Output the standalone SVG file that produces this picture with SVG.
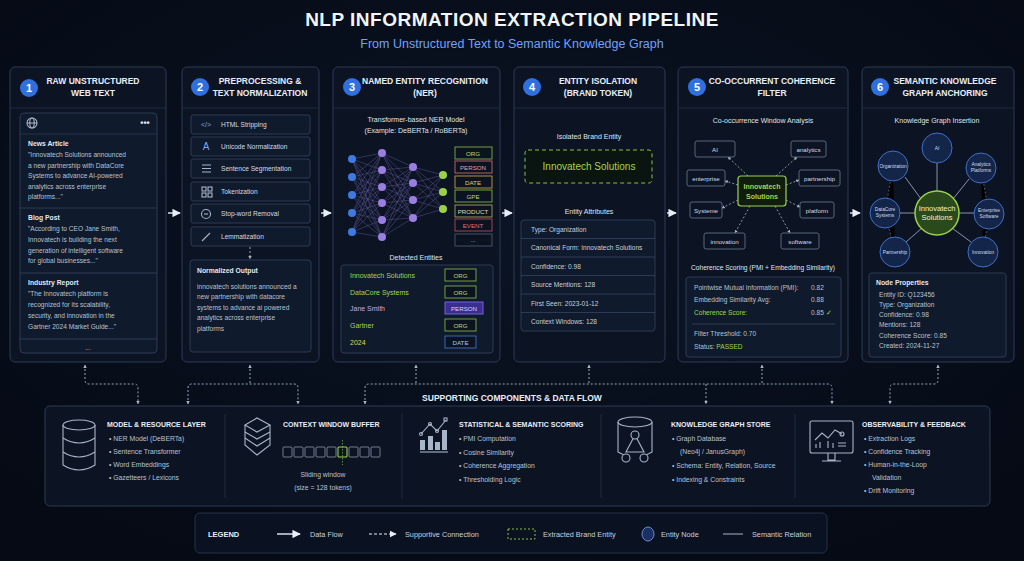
<svg xmlns="http://www.w3.org/2000/svg" width="1024" height="561" viewBox="0 0 1024 561">
<defs>
<marker id="ah" viewBox="0 0 10 10" refX="9" refY="5" markerWidth="6" markerHeight="6" orient="auto"><path d="M0 0L10 5L0 10z" fill="#e8eef8"/></marker>
<marker id="sm" viewBox="0 0 10 10" refX="9" refY="5" markerWidth="4" markerHeight="4" orient="auto-start-reverse"><path d="M0 0L10 5L0 10z" fill="#a8b4c8"/></marker>
<radialGradient id="bg" cx="50%" cy="40%" r="70%"><stop offset="0" stop-color="#0b1424"/><stop offset="1" stop-color="#050a14"/></radialGradient>
</defs>
<style>
text{font-family:"Liberation Sans",Arial,sans-serif;fill:#d4dbe8}
.panel{fill:#0c1424;stroke:#2c3b55;stroke-width:1}
.card{fill:#0f1a2c;stroke:#2c3b55;stroke-width:1}
.hd{font-size:8.5px;font-weight:bold;text-anchor:middle;fill:#e8eef8}
.num{fill:#2f6fde}
.numt{font-size:11px;fill:#fff;text-anchor:middle;font-weight:bold}
.sub{font-size:7px;text-anchor:middle;fill:#dfe5ef}
.t{font-size:6.6px;fill:#b8c2d2}
.tb{font-size:6.8px;font-weight:bold;fill:#e2e8f2}
.g{fill:#a6d44e}
.net{stroke:#6b5fa8;stroke-width:0.5;fill:none;opacity:0.8}
.tag{fill:#0b1320;stroke-width:0.9}
.tagt{font-size:6.2px;text-anchor:middle}
.wb{fill:#0c1424;stroke:#6a7890;stroke-width:0.8}
.wt{font-size:6.2px;text-anchor:middle;fill:#d4dbe8}
.dot{stroke:#a8b4c8;stroke-width:0.8;stroke-dasharray:2 2;fill:none}
.kn{fill:#13264a;stroke:#3f6fc8;stroke-width:1}
.knt{font-size:4.8px;text-anchor:middle;fill:#d4dbe8}
.flow{stroke:#e8eef8;stroke-width:1.4;marker-end:url(#ah)}
.sup{stroke:#a8b4c8;stroke-width:0.9;stroke-dasharray:2 2;fill:none}
.bt{font-size:7px;font-weight:bold;fill:#e8eef8}
.bl{font-size:6.8px;fill:#b8c2d2}
.lg{font-size:7.3px;fill:#c8d0de}
.ic{fill:none;stroke:#a8b4c8;stroke-width:1.1}
.sq{fill:none;stroke:#8894a8;stroke-width:0.8}
</style>
<rect width="1024" height="561" fill="url(#bg)"/>
<text x="512" y="26" text-anchor="middle" style="font-size:19px;font-weight:bold;fill:#f2f5fa;letter-spacing:0.5px">NLP INFORMATION EXTRACTION PIPELINE</text>
<text x="512" y="48" text-anchor="middle" style="font-size:12.5px;fill:#6fa2ff">From Unstructured Text to Semantic Knowledge Graph</text>

<g id="panel1">
<rect class="panel" x="10" y="67" width="156" height="295" rx="5"/>
<line x1="10" y1="108" x2="166" y2="108" stroke="#1e2a40"/>
<circle class="num" cx="29" cy="88" r="9"/><text class="numt" x="29" y="92">1</text>
<text class="hd" x="93" y="84">RAW UNSTRUCTURED</text><text class="hd" x="93" y="96">WEB TEXT</text>
<rect class="card" x="20" y="113" width="137" height="240" rx="4"/>
<circle cx="32" cy="123" r="5" class="ic" stroke-width="0.8"/><ellipse cx="32" cy="123" rx="2.2" ry="5" class="ic" stroke-width="0.6"/><line x1="27" y1="123" x2="37" y2="123" class="ic" stroke-width="0.6"/>
<text x="145" y="126" text-anchor="middle" style="font-size:9px;font-weight:bold;fill:#e0e6f0">•••</text>
<line x1="20" y1="134" x2="157" y2="134" stroke="#24324a"/>
<text class="tb" x="28" y="146">News Article</text>
<text class="t" x="28" y="157">"Innovatech Solutions announced</text>
<text class="t" x="28" y="168">a new partnership with DataCore</text>
<text class="t" x="28" y="178">Systems to advance AI-powered</text>
<text class="t" x="28" y="189">analytics across enterprise</text>
<text class="t" x="28" y="199">platforms..."</text>
<line x1="20" y1="208" x2="157" y2="208" stroke="#2c3b55"/>
<text class="tb" x="28" y="220">Blog Post</text>
<text class="t" x="28" y="231">"According to CEO Jane Smith,</text>
<text class="t" x="28" y="242">Innovatech is building the next</text>
<text class="t" x="28" y="253">generation of intelligent software</text>
<text class="t" x="28" y="263">for global businesses..."</text>
<line x1="20" y1="273" x2="157" y2="273" stroke="#2c3b55"/>
<text class="tb" x="28" y="285">Industry Report</text>
<text class="t" x="28" y="296">"The Innovatech platform is</text>
<text class="t" x="28" y="307">recognized for its scalability,</text>
<text class="t" x="28" y="318">security, and innovation in the</text>
<text class="t" x="28" y="329">Gartner 2024 Market Guide..."</text>
<line x1="20" y1="339" x2="157" y2="339" stroke="#2c3b55"/>
<text class="t" x="88" y="350" text-anchor="middle">...</text>
</g>

<g id="panel2">
<rect class="panel" x="182" y="67" width="137" height="295" rx="5"/>
<line x1="182" y1="108" x2="319" y2="108" stroke="#1e2a40"/>
<circle class="num" cx="200" cy="87" r="9"/><text class="numt" x="200" y="91">2</text>
<text class="hd" x="260" y="84">PREPROCESSING &amp;</text><text class="hd" x="260" y="96">TEXT NORMALIZATION</text>
<rect class="card" x="191" y="115" width="119" height="19" rx="2"/>
<rect class="card" x="191" y="137" width="119" height="19" rx="2"/>
<rect class="card" x="191" y="159" width="119" height="19" rx="2"/>
<rect class="card" x="191" y="182" width="119" height="19" rx="2"/>
<rect class="card" x="191" y="204" width="119" height="19" rx="2"/>
<rect class="card" x="191" y="227" width="119" height="19" rx="2"/>
<g style="font-size:7px;fill:#7fa6e8" text-anchor="middle"><text x="206" y="127" style="fill:#7fa6e8">&lt;/&gt;</text><text x="206" y="150" style="font-size:10px;fill:#7fa6e8">A</text></g>
<g class="ic" stroke="#6f96d8"><path d="M202 165h9M202 168.5h9M202 172h9"/><rect x="202" y="187" width="4" height="4"/><rect x="208" y="187" width="4" height="4"/><rect x="202" y="193" width="4" height="4"/><rect x="208" y="193" width="4" height="4"/><circle cx="206" cy="214" r="4.5"/><path d="M204 214h4"/><path d="M202 241l8-8"/></g>
<text class="t" x="221" y="127" style="fill:#d4dbe8">HTML Stripping</text>
<text class="t" x="221" y="149" style="fill:#d4dbe8">Unicode Normalization</text>
<text class="t" x="221" y="171" style="fill:#d4dbe8">Sentence Segmentation</text>
<text class="t" x="221" y="194" style="fill:#d4dbe8">Tokenization</text>
<text class="t" x="221" y="216" style="fill:#d4dbe8">Stop-word Removal</text>
<text class="t" x="221" y="239" style="fill:#d4dbe8">Lemmatization</text>
<line x1="250" y1="247" x2="250" y2="259" class="sup" marker-end="url(#sm)"/>
<rect class="card" x="190" y="260" width="121" height="92" rx="3"/>
<text class="tb" x="197" y="273">Normalized Output</text>
<text class="t" x="197" y="289">innovatech solutions announced a</text>
<text class="t" x="197" y="299">new partnership with datacore</text>
<text class="t" x="197" y="310">systems to advance ai powered</text>
<text class="t" x="197" y="320">analytics across enterprise</text>
<text class="t" x="197" y="331">platforms</text>
</g>

<g id="panel3">
<rect class="panel" x="333" y="67" width="167" height="295" rx="5"/>
<line x1="333" y1="108" x2="500" y2="108" stroke="#1e2a40"/>
<circle class="num" cx="352" cy="87" r="9"/><text class="numt" x="352" y="91">3</text>
<text class="hd" x="425" y="84">NAMED ENTITY RECOGNITION</text><text class="hd" x="425" y="96">(NER)</text>
<text class="sub" x="416" y="122">Transformer-based NER Model</text>
<text class="sub" x="416" y="133">(Example: DeBERTa / RoBERTa)</text>
<path class="net" d="M352 159L382 153L352 177M382 153L352 195M382 153L352 213M382 153L352 232 M352 159L382 170L352 177M382 170L352 195M382 170L352 213M382 170L352 232 M352 159L382 187L352 177M382 187L352 195M382 187L352 213M382 187L352 232 M352 159L382 203L352 177M382 203L352 195M382 203L352 213M382 203L352 232 M352 159L382 220L352 177M382 220L352 195M382 220L352 213M382 220L352 232 M352 159L382 237L352 177M382 237L352 195M382 237L352 213M382 237L352 232"/>
<path class="net" d="M382 153L413 167L382 170M413 167L382 187M413 167L382 203M413 167L382 220M413 167L382 237 M382 153L413 183L382 170M413 183L382 187M413 183L382 203M413 183L382 220M413 183L382 237 M382 153L413 200L382 170M413 200L382 187M413 200L382 203M413 200L382 220M413 200L382 237 M382 153L413 218L382 170M413 218L382 187M413 218L382 203M413 218L382 220M413 218L382 237"/>
<path class="net" d="M413 167L443 175L413 183M443 175L413 200M443 175L413 218 M413 167L443 192L413 183M443 192L413 200M443 192L413 218 M413 167L443 209L413 183M443 209L413 200M443 209L413 218"/>
<g fill="#3f7ae0"><circle cx="352" cy="159" r="4"/><circle cx="352" cy="177" r="4"/><circle cx="352" cy="195" r="4"/><circle cx="352" cy="213" r="4"/><circle cx="352" cy="232" r="4"/></g>
<g fill="#9a7fe0"><circle cx="382" cy="153" r="4"/><circle cx="382" cy="170" r="4"/><circle cx="382" cy="187" r="4"/><circle cx="382" cy="203" r="4"/><circle cx="382" cy="220" r="4"/><circle cx="382" cy="237" r="4"/><circle cx="413" cy="167" r="4"/><circle cx="413" cy="183" r="4"/><circle cx="413" cy="200" r="4"/><circle cx="413" cy="218" r="4"/></g>
<g fill="#9ad04a"><circle cx="443" cy="175" r="4"/><circle cx="443" cy="192" r="4"/><circle cx="443" cy="209" r="4"/></g>
<rect class="tag" x="455" y="147" width="37" height="12" stroke="#7fb040"/><text class="tagt" x="473" y="155.5" style="fill:#b8dc70">ORG</text>
<rect class="tag" x="455" y="161" width="37" height="12" stroke="#c06a6a"/><text class="tagt" x="473" y="169.5" style="fill:#e8a0a0">PERSON</text>
<rect class="tag" x="455" y="176" width="37" height="12" stroke="#c0a040"/><text class="tagt" x="473" y="184.5" style="fill:#e8c870">DATE</text>
<rect class="tag" x="455" y="190" width="37" height="12" stroke="#7fb040"/><text class="tagt" x="473" y="198.5" style="fill:#b8dc70">GPE</text>
<rect class="tag" x="455" y="205" width="37" height="12" stroke="#a8a060"/><text class="tagt" x="473" y="213.5" style="fill:#e0d8a0">PRODUCT</text>
<rect class="tag" x="455" y="219" width="37" height="12" stroke="#b04a5a"/><text class="tagt" x="473" y="227.5" style="fill:#e07080">EVENT</text>
<rect class="tag" x="455" y="234" width="37" height="12" stroke="#4a5870"/><text class="tagt" x="473" y="242" style="fill:#b8c2d2">...</text>
<text class="sub" x="416" y="260">Detected Entities</text>
<rect class="card" x="341" y="265" width="152" height="88" rx="3"/>
<g style="font-size:7px"><text x="350" y="278" class="g">Innovatech Solutions</text><text x="350" y="295" class="g">DataCore Systems</text><text x="350" y="311" style="fill:#c8a8e8">Jane Smith</text><text x="350" y="328" class="g">Gartner</text><text x="350" y="345" style="fill:#e0d060">2024</text></g>
<rect class="tag" x="445" y="269" width="31" height="12" stroke="#7fb040"/><text class="tagt" x="460.5" y="277.5" style="fill:#b8dc70">ORG</text>
<rect class="tag" x="445" y="286" width="31" height="12" stroke="#7fb040"/><text class="tagt" x="460.5" y="294.5" style="fill:#b8dc70">ORG</text>
<rect x="445" y="302" width="38" height="12" fill="#3a2f90" stroke="#7a6ae0" stroke-width="0.9"/><text class="tagt" x="464" y="310.5" style="fill:#d8d0ff">PERSON</text>
<rect class="tag" x="445" y="319" width="31" height="12" stroke="#7fb040"/><text class="tagt" x="460.5" y="327.5" style="fill:#b8dc70">ORG</text>
<rect class="tag" x="445" y="336" width="31" height="12" stroke="#3f6fc8"/><text class="tagt" x="460.5" y="344.5" style="fill:#a8c4f0">DATE</text>
</g>

<g id="panel4">
<rect class="panel" x="514" y="67" width="151" height="295" rx="5"/>
<line x1="514" y1="108" x2="665" y2="108" stroke="#1e2a40"/>
<circle class="num" cx="532" cy="87" r="9"/><text class="numt" x="532" y="91">4</text>
<text class="hd" x="598" y="84">ENTITY ISOLATION</text><text class="hd" x="598" y="96">(BRAND TOKEN)</text>
<text class="sub" x="589" y="139">Isolated Brand Entity</text>
<rect x="525" y="150" width="127" height="33" rx="3" fill="#0a1410" stroke="#8ac040" stroke-dasharray="4 3" stroke-width="1"/>
<text x="589" y="170" text-anchor="middle" style="font-size:10px" class="g">Innovatech Solutions</text>
<text class="sub" x="589" y="214">Entity Attributes</text>
<rect class="card" x="521" y="220" width="134" height="111" rx="3"/>
<g stroke="#2c3b55"><line x1="521" y1="238.5" x2="655" y2="238.5"/><line x1="521" y1="257" x2="655" y2="257"/><line x1="521" y1="275.5" x2="655" y2="275.5"/><line x1="521" y1="294" x2="655" y2="294"/><line x1="521" y1="312.5" x2="655" y2="312.5"/></g>
<text class="t" x="531" y="232" style="fill:#c8d0de">Type: Organization</text>
<text class="t" x="531" y="250" style="fill:#c8d0de">Canonical Form: Innovatech Solutions</text>
<text class="t" x="531" y="269" style="fill:#c8d0de">Confidence: 0.98</text>
<text class="t" x="531" y="287" style="fill:#c8d0de">Source Mentions: 128</text>
<text class="t" x="531" y="306" style="fill:#c8d0de">First Seen: 2023-01-12</text>
<text class="t" x="531" y="324" style="fill:#c8d0de">Context Windows: 128</text>
</g>

<g id="panel5">
<rect class="panel" x="678" y="67" width="170" height="295" rx="5"/>
<line x1="678" y1="108" x2="848" y2="108" stroke="#1e2a40"/>
<circle class="num" cx="697" cy="87" r="9"/><text class="numt" x="697" y="91">5</text>
<text class="hd" x="772" y="84">CO-OCCURRENT COHERENCE</text><text class="hd" x="772" y="96">FILTER</text>
<text class="sub" x="763" y="123">Co-occurrence Window Analysis</text>
<g class="dot" marker-end="url(#sm)"><path d="M748 176L728 157"/><path d="M776 176L797 157"/><path d="M738 185L725 181"/><path d="M786 185L799 180"/><path d="M738 200L722 208"/><path d="M786 200L800 207"/><path d="M750 206L735 233"/><path d="M775 206L790 233"/></g>
<rect class="wb" x="695" y="141" width="40" height="16" rx="2"/><text class="wt" x="715" y="151.5">AI</text>
<rect class="wb" x="791" y="141" width="35" height="16" rx="2"/><text class="wt" x="808.5" y="151.5">analytics</text>
<rect class="wb" x="687" y="170" width="38" height="16" rx="2"/><text class="wt" x="706" y="180.5">enterprise</text>
<rect class="wb" x="799" y="170" width="41" height="16" rx="2"/><text class="wt" x="819.5" y="180.5">partnership</text>
<rect class="wb" x="690" y="202" width="32" height="16" rx="2"/><text class="wt" x="706" y="212.5">Systeme</text>
<rect class="wb" x="800" y="202" width="34" height="16" rx="2"/><text class="wt" x="817" y="212.5">platform</text>
<rect class="wb" x="704" y="233" width="41" height="16" rx="2"/><text class="wt" x="724.5" y="243.5">innovation</text>
<rect class="wb" x="781" y="233" width="38" height="16" rx="2"/><text class="wt" x="800" y="243.5">software</text>
<rect x="738" y="176" width="48" height="30" rx="3" fill="#101c10" stroke="#9ad04a" stroke-width="1.2"/>
<text x="762" y="189" text-anchor="middle" style="font-size:7px;font-weight:bold" class="g">Innovatech</text>
<text x="762" y="199" text-anchor="middle" style="font-size:7px;font-weight:bold" class="g">Solutions</text>
<text class="sub" x="763" y="270" style="font-size:6.6px">Coherence Scoring (PMI + Embedding Similarity)</text>
<rect class="card" x="686" y="277" width="155" height="80" rx="3"/>
<text class="t" x="694" y="290">Pointwise Mutual Information (PMI):</text><text class="t" x="811" y="290">0.82</text>
<text class="t" x="694" y="302">Embedding Similarity Avg:</text><text class="t" x="811" y="302">0.88</text>
<text class="t g" x="694" y="315">Coherence Score:</text><text class="t" x="811" y="315">0.85 <tspan class="g">✓</tspan></text>
<line x1="692" y1="324" x2="835" y2="324" stroke="#2c3b55"/>
<text class="t" x="694" y="336">Filter Threshold: 0.70</text>
<text class="t" x="694" y="349">Status: <tspan class="g">PASSED</tspan></text>
</g>

<g id="panel6">
<rect class="panel" x="862" y="67" width="152" height="295" rx="5"/>
<line x1="862" y1="108" x2="1014" y2="108" stroke="#1e2a40"/>
<circle class="num" cx="880" cy="87" r="9"/><text class="numt" x="880" y="91">6</text>
<text class="hd" x="945" y="84">SEMANTIC KNOWLEDGE</text><text class="hd" x="945" y="96">GRAPH ANCHORING</text>
<text class="sub" x="937" y="123">Knowledge Graph Insertion</text>
<g stroke="#6a7890" stroke-width="0.7" stroke-dasharray="2 2"><path d="M893 166L885 213L895 252"/><path d="M981 168L989 214L983 252"/></g>
<g stroke="#a8b4c8" stroke-width="0.8"><path d="M937 192V163"/><path d="M921 199L905 177"/><path d="M953 199L969 179"/><path d="M916 213H900"/><path d="M958 213H974"/><path d="M922 228L906 242"/><path d="M952 228L971 242"/></g>
<circle class="kn" cx="937" cy="148" r="15"/><text class="knt" x="937" y="150">AI</text>
<circle class="kn" cx="893" cy="166" r="15"/><text class="knt" x="893" y="168">Organization</text>
<circle class="kn" cx="981" cy="168" r="15"/><text class="knt" x="981" y="166">Analytics</text><text class="knt" x="981" y="172">Platforms</text>
<circle class="kn" cx="885" cy="213" r="15"/><text class="knt" x="885" y="211">DataCore</text><text class="knt" x="885" y="217">Systems</text>
<circle class="kn" cx="989" cy="214" r="15"/><text class="knt" x="989" y="212">Enterprise</text><text class="knt" x="989" y="218">Software</text>
<circle class="kn" cx="895" cy="252" r="15"/><text class="knt" x="895" y="254">Partnership</text>
<circle class="kn" cx="983" cy="252" r="15"/><text class="knt" x="983" y="254">Innovation</text>
<circle cx="937" cy="213" r="22" fill="#2a4a1c" stroke="#9ad04a" stroke-width="1.5"/>
<text x="937" y="211" text-anchor="middle" style="font-size:7.5px;fill:#eaf4d8">Innovatech</text>
<text x="937" y="220" text-anchor="middle" style="font-size:7.5px;fill:#eaf4d8">Solutions</text>
<rect class="card" x="869" y="273" width="137" height="84" rx="3"/>
<text class="tb" x="876" y="285">Node Properties</text>
<text class="t" x="879" y="297">Entity ID: Q123456</text>
<text class="t" x="879" y="307">Type: Organization</text>
<text class="t" x="879" y="317">Confidence: 0.98</text>
<text class="t" x="879" y="327">Mentions: 128</text>
<text class="t" x="879" y="338">Coherence Score: 0.85</text>
<text class="t" x="879" y="348">Created: 2024-11-27</text>
</g>

<g id="connectors">
<line class="flow" x1="168" y1="213" x2="180" y2="213"/>
<line class="flow" x1="321" y1="213" x2="331" y2="213"/>
<line class="flow" x1="502" y1="213" x2="512" y2="213"/>
<line class="flow" x1="667" y1="213" x2="676" y2="213"/>
<line class="flow" x1="850" y1="213" x2="860" y2="213"/>
<path class="sup" d="M85 365V380Q85 384 89 384H134Q138 384 138 388V404" marker-start="url(#sm)" marker-end="url(#sm)"/>
<path class="sup" d="M250 365V384" marker-start="url(#sm)"/>
<path class="sup" d="M188 404V388Q188 384 192 384H294Q298 384 298 388V404" marker-start="url(#sm)" marker-end="url(#sm)"/>
<path class="sup" d="M416 365V384" marker-start="url(#sm)"/>
<path class="sup" d="M589 365V384" marker-start="url(#sm)"/>
<path class="sup" d="M762 365V384" marker-start="url(#sm)"/>
<path class="sup" d="M365 404V388Q365 384 369 384H828Q832 384 832 388V404" marker-start="url(#sm)" marker-end="url(#sm)"/>
<path class="sup" d="M706 384V404" marker-end="url(#sm)"/>
<path class="sup" d="M938 365V380Q938 384 934 384H894Q890 384 890 388V404" marker-start="url(#sm)" marker-end="url(#sm)"/>
</g>

<text x="512" y="401" text-anchor="middle" style="font-size:8.5px;font-weight:bold;fill:#e8eef8">SUPPORTING COMPONENTS &amp; DATA FLOW</text>
<g id="support">
<rect x="45" y="406" width="945" height="100" rx="5" fill="#0c1424" stroke="#2c3b55"/>
<g stroke="#1e2a40"><line x1="225" y1="414" x2="225" y2="498"/><line x1="402" y1="414" x2="402" y2="498"/><line x1="601" y1="414" x2="601" y2="498"/><line x1="795" y1="414" x2="795" y2="498"/></g>
<g class="ic" stroke-width="1.3"><ellipse cx="79" cy="425" rx="16" ry="5"/><path d="M63 425V465Q79 475 95 465V425M63 438Q79 448 95 438M63 452Q79 462 95 452"/></g>
<text class="bt" x="107" y="427">MODEL &amp; RESOURCE LAYER</text>
<text class="bl" x="109" y="441">•  NER Model (DeBERTa)</text>
<text class="bl" x="109" y="454">•  Sentence Transformer</text>
<text class="bl" x="109" y="467">•  Word Embeddings</text>
<text class="bl" x="109" y="480">•  Gazetteers / Lexicons</text>
<g class="ic" stroke-width="1.1"><path d="M245 425L257 418L270 425L257 432Z"/><path d="M245 432L257 439L270 432"/><path d="M245 425V445L257 455L270 445V425"/><path d="M245 438L257 446L270 438"/></g>
<text class="bt" x="283" y="427">CONTEXT WINDOW BUFFER</text>
<g class="sq"><rect x="283" y="447" width="9" height="10" rx="1"/><rect x="294" y="447" width="9" height="10" rx="1"/><rect x="305" y="447" width="9" height="10" rx="1"/><rect x="316" y="447" width="9" height="10" rx="1"/><rect x="327" y="447" width="9" height="10" rx="1"/><rect x="349" y="447" width="9" height="10" rx="1"/><rect x="360" y="447" width="9" height="10" rx="1"/><rect x="371" y="447" width="9" height="10" rx="1"/></g>
<rect x="338" y="447" width="9" height="10" rx="1" fill="none" stroke="#9ad04a" stroke-width="1.1"/>
<line x1="342.5" y1="440" x2="342.5" y2="465" stroke="#9ad04a" stroke-width="0.6" stroke-dasharray="1.5 1.5"/>
<text class="bl" x="323" y="477" text-anchor="middle">Sliding window</text>
<text class="bl" x="323" y="490" text-anchor="middle">(size = 128 tokens)</text>
<g class="ic" stroke-width="1.1"><path d="M421 434L430 424L437 431L446 420"/><circle cx="421" cy="434" r="1.5"/><circle cx="430" cy="424" r="1.5"/><circle cx="437" cy="431" r="1.5"/><rect x="444" y="418" width="3" height="3"/><path d="M420 452H448"/></g>
<g fill="#a8b4c8"><rect x="420" y="440" width="5" height="10"/><rect x="428" y="436" width="5" height="14"/><rect x="435" y="442" width="5" height="8"/><rect x="442" y="430" width="5" height="20"/></g>
<text class="bt" x="459" y="427">STATISTICAL &amp; SEMANTIC SCORING</text>
<text class="bl" x="459" y="441">•  PMI Computation</text>
<text class="bl" x="459" y="455">•  Cosine Similarity</text>
<text class="bl" x="459" y="468">•  Coherence Aggregation</text>
<text class="bl" x="459" y="482">•  Thresholding Logic</text>
<g class="ic" stroke-width="1.2"><ellipse cx="635" cy="422" rx="17" ry="5"/><path d="M618 422V452Q625 456 630 456M652 422V452Q645 456 640 456"/><path d="M635 435L626 452L644 452Z"/><circle cx="635" cy="435" r="4" fill="#0c1424"/><circle cx="626" cy="458" r="4" fill="#0c1424"/><circle cx="644" cy="458" r="4" fill="#0c1424"/></g>
<text class="bt" x="671" y="427">KNOWLEDGE GRAPH STORE</text>
<text class="bl" x="672" y="441">•  Graph Database</text>
<text class="bl" x="680" y="454">(Neo4j / JanusGraph)</text>
<text class="bl" x="672" y="468">•  Schema: Entity, Relation, Source</text>
<text class="bl" x="672" y="482">•  Indexing &amp; Constraints</text>
<g class="ic" stroke-width="1.1"><rect x="810" y="421" width="43" height="32" rx="2"/><path d="M828 453V460H835V453M822 461H841"/><path d="M815 440L822 433L828 438L835 430L842 434"/><circle cx="842" cy="434" r="2"/><path d="M816 448V444M820 448V442M828 448V441M833 448V443M838 446H846M838 443H846"/></g>
<text class="bt" x="862" y="427">OBSERVABILITY &amp; FEEDBACK</text>
<text class="bl" x="864" y="441">•  Extraction Logs</text>
<text class="bl" x="864" y="454">•  Confidence Tracking</text>
<text class="bl" x="864" y="467">•  Human-in-the-Loop</text>
<text class="bl" x="872" y="480">Validation</text>
<text class="bl" x="864" y="493">•  Drift Monitoring</text>
</g>

<g id="legend">
<rect x="195" y="513" width="632" height="40" rx="5" fill="#0a1120" stroke="#243248"/>
<text x="208" y="537" style="font-size:7.5px;font-weight:bold;fill:#e8eef8">LEGEND</text>
<line class="flow" x1="277" y1="534" x2="300" y2="534"/>
<text class="lg" x="310" y="537">Data Flow</text>
<line x1="369" y1="534" x2="396" y2="534" stroke="#e8eef8" stroke-width="1.2" stroke-dasharray="3 2" marker-end="url(#ah)"/>
<text class="lg" x="405" y="537">Supportive Connection</text>
<rect x="508" y="529" width="27" height="10" fill="none" stroke="#8ac040" stroke-dasharray="2 2"/>
<text class="lg" x="543" y="537">Extracted Brand Entity</text>
<ellipse cx="648" cy="534" rx="6" ry="7" fill="#1a3060" stroke="#6a8ad0"/>
<text class="lg" x="661" y="537">Entity Node</text>
<line x1="723" y1="534" x2="743" y2="534" stroke="#a8b4c8"/>
<text class="lg" x="752" y="537">Semantic Relation</text>
</g>
</svg>
